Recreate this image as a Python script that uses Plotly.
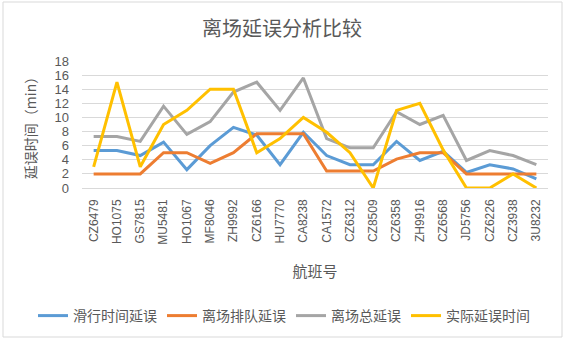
import plotly.graph_objects as go

flights = ["CZ6479", "HO1075", "GS7815", "MU5481", "HO1067", "MF8046", "ZH9992",
           "CZ6166", "HU7770", "CA8238", "CA1572", "CZ6312", "CZ8509", "CZ6358",
           "ZH9916", "CZ6568", "JD5756", "CZ6226", "CZ3938", "3U8232"]

taxi_delay = [5.3, 5.3, 4.6, 6.5, 2.6, 6.0, 8.6, 7.5, 3.3, 7.9,
              4.6, 3.3, 3.3, 6.6, 3.9, 5.2, 2.2, 3.3, 2.7, 1.3]
queue_delay = [2.0, 2.0, 2.0, 5.0, 5.0, 3.5, 5.0, 7.7, 7.7, 7.7,
               2.4, 2.4, 2.4, 4.1, 5.0, 5.0, 2.0, 2.0, 2.0, 2.0]
total_delay = [7.3, 7.3, 6.6, 11.6, 7.6, 9.4, 13.6, 15.0, 11.0, 15.6,
               7.0, 5.7, 5.7, 10.8, 9.0, 10.3, 3.9, 5.3, 4.6, 3.3]
actual_delay = [3.0, 15.0, 3.0, 9.0, 11.0, 14.0, 14.0, 5.0, 7.0, 10.0,
                7.9, 5.0, 0.0, 11.0, 12.0, 5.4, 0.0, 0.0, 2.0, 0.0]

series_names = ["滑行时间延误", "离场排队延误", "离场总延误", "实际延误时间"]
series_values = [taxi_delay, queue_delay, total_delay, actual_delay]
colors = ["#5B9BD5", "#ED7D31", "#A5A5A5", "#FFC000"]

y_ticks = list(range(0, 19, 2))

cjk = "Noto Sans CJK SC"
lat = "Liberation Sans, Arial, sans-serif"
txt = "#595959"

W, H = 566, 341
L, R, T, B = 82, 18, 61, 153
PW, PH = W - L - R, H - T - B

fig = go.Figure()
for name, vals, col in zip(series_names, series_values, colors):
    fig.add_trace(go.Scatter(x=flights, y=vals, name=name, mode="lines",
                             line=dict(color=col, width=3)))

fig.update_layout(
    width=W, height=H,
    margin=dict(l=L, r=R, t=T, b=B, autoexpand=False),
    paper_bgcolor="white", plot_bgcolor="white",
    title=dict(text="离场延误分析比较", x=282 / W, xanchor="center", xref="container",
               y=1 - 29 / H, yanchor="middle",
               font=dict(family=cjk, size=20, color=txt)),
    showlegend=True,
    legend=dict(orientation="h", x=(33 - L) / PW, xanchor="left",
                y=(T + PH - 316) / PH, yanchor="middle",
                font=dict(family=cjk, size=14, color=txt),
                itemwidth=30, bgcolor="rgba(0,0,0,0)"),
    xaxis=dict(type="category", range=[-0.5, len(flights) - 0.5],
               showgrid=False, showline=False, zeroline=False,
               tickangle=-90, ticks="", ticklabelstandoff=8,
               tickfont=dict(family=lat, size=12, color=txt),
               title=dict(text="航班号", standoff=22,
                          font=dict(family=cjk, size=15, color=txt)),
               automargin=False),
    yaxis=dict(range=[0, 18], tickvals=y_ticks, showgrid=True,
               gridcolor="#D9D9D9", gridwidth=1, zeroline=True,
               zerolinecolor="#D9D9D9", zerolinewidth=1, showline=False,
               ticks="", ticklabelstandoff=12,
               tickfont=dict(family=lat, size=13, color=txt),
               title=dict(text="延误时间（min）", standoff=14,
                          font=dict(family=cjk, size=14, color=txt)),
               automargin=False),
)

fig.add_shape(type="rect", xref="paper", yref="paper",
              x0=(3 - L) / PW, x1=(562 - L) / PW,
              y0=(T + PH - 337) / PH, y1=(T + PH - 2) / PH,
              line=dict(color="#D9D9D9", width=1), layer="below")

fig.write_html("out.html",
               config={"displayModeBar": False},
               post_script="document.body.style.margin='0';document.body.style.overflow='hidden';")
